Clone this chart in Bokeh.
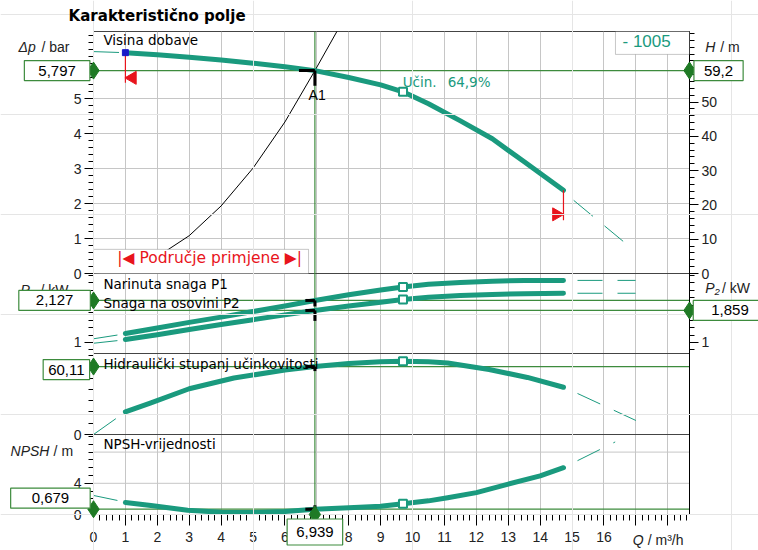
import numpy as np
from bokeh.plotting import figure
from bokeh.models import Range1d, LinearAxis, FixedTicker, Label, Span, BoxAnnotation, GridBox, Column
from bokeh.embed import file_html
from bokeh.resources import INLINE

# ---------------- data ----------------
q_head = [1.0, 2.0, 3.0, 4.0, 5.0, 6.0, 6.939, 8.0, 9.0, 9.7, 10.5, 11.5, 12.5, 13.5, 14.73]
dp_head = [6.31, 6.25, 6.18, 6.10, 6.01, 5.91, 5.797, 5.60, 5.39, 5.19, 4.85, 4.36, 3.85, 3.19, 2.38]
q_head_lo = [0.0, 0.8]
dp_head_lo = [6.34, 6.315]
q_head_hi = [15.05, 16.6]
dp_head_hi = [2.09, 0.92]

q_sys = [0.0, 1.0, 2.0, 3.0, 4.0, 5.0, 6.0, 6.939, 7.65]
dp_sys = [0.0, 0.12, 0.48, 1.08, 1.93, 3.01, 4.33, 5.797, 6.95]

q_pw = [1.0, 2.0, 3.0, 4.0, 5.0, 6.0, 6.939, 8.0, 9.0, 9.7, 10.5, 11.5, 12.5, 13.5, 14.73]
p1 = [1.24, 1.39, 1.54, 1.68, 1.83, 1.98, 2.127, 2.28, 2.41, 2.49, 2.56, 2.61, 2.645, 2.66, 2.665]
p2 = [1.08, 1.21, 1.35, 1.48, 1.61, 1.74, 1.859, 1.98, 2.08, 2.15, 2.21, 2.26, 2.29, 2.31, 2.32]
q_pw_lo = [0.0, 0.75]
p1_lo = [1.10, 1.20]
p2_lo = [0.98, 1.05]
q_pw_hi = [15.17, 16.99]
p1_hi = [2.665, 2.665]
p2_hi = [2.32, 2.32]

q_eta = [1.0, 1.8, 3.0, 4.4, 6.0, 6.939, 8.0, 9.0, 9.7, 10.5, 11.1, 12.4, 13.6, 14.73]
eta = [20.0, 28.0, 40.5, 50.0, 57.0, 60.11, 62.8, 64.3, 64.9, 64.4, 63.3, 57.5, 50.5, 41.8]
q_eta_lo = [0.0, 0.7]
eta_lo = [0.0, 14.0]
q_eta_hi = [15.17, 17.0]
eta_hi = [36.3, 12.4]

q_npsh = [1.0, 1.8, 2.95, 4.0, 5.0, 6.0, 6.939, 8.0, 9.0, 9.7, 10.5, 11.1, 12.0, 13.0, 14.0, 14.73]
npsh = [1.54, 1.15, 0.55, 0.28, 0.25, 0.38, 0.679, 0.85, 1.05, 1.38, 1.75, 2.15, 2.8, 3.9, 4.95, 6.0]
q_npsh_lo = [0.0, 0.75]
npsh_lo = [2.44, 1.8]
q_npsh_hi = [15.17, 16.35]
npsh_hi = [6.9, 9.3]

# operating point / best point
q_op, dp_op, h_op = 6.939, 5.797, 59.2
p1_op, p2_op, eta_op, npsh_op = 2.127, 1.859, 60.11, 0.679
q_bep = 9.7
eta_bep_txt = "64,9%"
q_min, q_max = 1.0, 14.73

# tick labels
dp_major = [0, 1, 2, 3, 4, 5]
h_major = [0, 10, 20, 30, 40, 50]
pw_major = [1, 2]
eta_major = [0, 60]
npsh_major = [0, 4]
q_major = list(range(0, 19))
q_hidden = [17, 18]

# ---------------- layout ----------------
W, H = 758, 550
ML, MR, MT, MB = 93, 69, 31, 36
FW = W - ML - MR
FH = H - MT - MB
XMAX = 18.68
PPQ = FW / XMAX
BAR_TO_M = 10.21

panels = {
    "npsh": (0, 0.0, 7.8),
    "eta": (80, 0.0, 1.13),
    "pw": (161, 0.705, 37.3),
    "dp": (241, 0.0, 35.0),
    "H": (241, 0.0, 35.0 / BAR_TO_M),
}


def rng(name, below=0, total=FH):
    pb, v0, ppu = panels[name]
    s = v0 - (pb + below) / ppu
    return Range1d(s, s + total / ppu)


def pos(name, v):
    pb, v0, ppu = panels[name]
    return round(pb + (v - v0) * ppu, 3)


TEAL = "#1a9a7e"
GREEN = "#3d8b3d"
DGREEN = "#1f7a25"
RED = "#e8141c"
GRID = "#c6c6c6"
EDGE = "#444444"

# main figure: frame, axes, curves
p = figure(width=W, height=H, x_range=Range1d(0, XMAX), y_range=Range1d(0, FH),
           output_backend="svg", toolbar_location=None, title=None,
           min_border_left=ML, min_border_right=MR, min_border_top=MT, min_border_bottom=MB)
p.extra_y_ranges = {k: rng(k) for k in panels}
p.background_fill_color = "white"
p.border_fill_color = "white"
p.outline_line_color = EDGE
p.ygrid.visible = False
p.xgrid.ticker = FixedTicker(ticks=q_major)
p.xgrid.grid_line_color = GRID

# overlay figure: same coordinates, frame covering the whole canvas (texts, boxes, markers at edges)
o = figure(width=W, height=H, x_range=Range1d(-ML / PPQ, (W - ML) / PPQ), y_range=Range1d(-MB, FH + MT),
           output_backend="svg", toolbar_location=None, title=None, min_border=0,
           x_axis_location=None, y_axis_location=None)
o.extra_y_ranges = {k: rng(k, below=MB, total=H) for k in panels}
o.background_fill_alpha = 0
o.border_fill_alpha = 0
o.outline_line_color = None


def style_axis(ax, tick_out=9, minor_out=5):
    ax.major_tick_in = 0
    ax.major_tick_out = tick_out
    ax.minor_tick_in = 0
    ax.minor_tick_out = minor_out
    ax.axis_line_color = "black"
    ax.major_tick_line_color = "black"
    ax.minor_tick_line_color = "black"
    ax.major_label_text_font = "Liberation Sans"
    ax.major_label_text_font_size = "14px"
    ax.major_label_text_color = "#222222"
    ax.major_label_standoff = 3


def tick_set(specs):
    majors, minors, labels = [], [], {}
    for name, mj, mn in specs:
        for v in mj:
            t = pos(name, v)
            majors.append(t)
            labels[t] = f"{v:g}"
        minors += [pos(name, float(v)) for v in mn]
    return majors, minors, labels


lmaj, lmin, llab = tick_set([
    ("dp", dp_major, np.arange(0, 6.81, 0.2)),
    ("pw", pw_major, np.arange(0.8, 2.81, 0.2)),
    ("eta", eta_major, np.arange(10, 70.1, 10)),
    ("npsh", npsh_major, np.arange(1, 10.1, 1)),
])
left = p.yaxis[0]
left.ticker = FixedTicker(ticks=lmaj, minor_ticks=lmin)
left.major_label_overrides = llab
style_axis(left)

rmaj, rmin, rlab = tick_set([
    ("H", h_major, np.arange(0, 70.1, 2)),
    ("pw", pw_major, np.arange(0.8, 2.81, 0.2)),
])
right = LinearAxis(ticker=FixedTicker(ticks=rmaj, minor_ticks=rmin))
right.major_label_overrides = rlab
style_axis(right)
p.add_layout(right, "right")

xa = p.xaxis[0]
xa.ticker = FixedTicker(ticks=q_major, minor_ticks=[round(v, 2) for v in np.arange(0, XMAX, 0.2)])
xa.major_label_overrides = {k: "" for k in q_hidden}
style_axis(xa, tick_out=11, minor_out=6)
xa.major_label_standoff = 6

# horizontal grid lines (panel 1 and NPSH panel)
for v in dp_major[1:]:
    p.add_layout(Span(location=v, dimension="width", y_range_name="dp", line_color=GRID, line_width=1, level="underlay"))
for v in [4, 8]:
    p.add_layout(Span(location=v, dimension="width", y_range_name="npsh", line_color=GRID, line_width=1, level="underlay"))
# panel separators
for name in ["eta", "pw", "dp"]:
    p.add_layout(Span(location=panels[name][0], dimension="width", line_color=EDGE, line_width=1, level="underlay"))

# operating point lines
p.add_layout(Span(location=q_op, dimension="height", line_color=GREEN, line_width=1.2, level="underlay"))
for rn, v in [("dp", dp_op), ("pw", p1_op), ("pw", p2_op), ("eta", eta_op), ("npsh", npsh_op)]:
    p.add_layout(Span(location=v, dimension="width", y_range_name=rn, line_color=GREEN, line_width=1.2, level="underlay"))

# system curve
p.line(q_sys, dp_sys, y_range_name="dp", line_color="black", line_width=1)

# pump curves
curves = [
    ("dp", q_head, dp_head, q_head_lo, dp_head_lo, q_head_hi, dp_head_hi),
    ("pw", q_pw, p1, q_pw_lo, p1_lo, q_pw_hi, p1_hi),
    ("pw", q_pw, p2, q_pw_lo, p2_lo, q_pw_hi, p2_hi),
    ("eta", q_eta, eta, q_eta_lo, eta_lo, q_eta_hi, eta_hi),
    ("npsh", q_npsh, npsh, q_npsh_lo, npsh_lo, q_npsh_hi, npsh_hi),
]
for rn, qx, yy, qlo, ylo, qhi, yhi in curves:
    p.line(qlo, ylo, y_range_name=rn, line_color=TEAL, line_width=1)
    p.line(qhi, yhi, y_range_name=rn, line_color=TEAL, line_width=1, line_dash="25 15")
    p.line(qx, yy, y_range_name=rn, line_color=TEAL, line_width=5, line_join="round", line_cap="round")
    i = qx.index(q_bep)
    p.scatter([q_bep], [yy[i]], y_range_name=rn, marker="square", size=8,
              fill_color="white", line_color=TEAL, line_width=2)

# black duty-point marks
marks = [
    ("dp", [q_op - 0.5, q_op], [dp_op, dp_op], [q_op, q_op], [dp_op, dp_op - 0.43]),
    ("pw", [q_op - 0.3, q_op], [p1_op, p1_op], [q_op, q_op], [p1_op, p1_op - 0.16]),
    ("pw", [q_op - 0.3, q_op], [p2_op, p2_op], [q_op, q_op], [p2_op, p2_op - 0.28]),
    ("eta", [q_op - 0.3, q_op], [eta_op, eta_op], [q_op, q_op], [eta_op, eta_op - 4.0]),
    ("npsh", [q_op - 0.3, q_op], [npsh_op, npsh_op], [q_op, q_op], [npsh_op + 0.5, npsh_op]),
]
for rn, hx, hy, vx, vy in marks:
    p.line(hx, hy, y_range_name=rn, line_color="black", line_width=3)
    p.line(vx, vy, y_range_name=rn, line_color="black", line_width=3)

# limits of the head curve (red)
i0, i1 = 0, len(q_head) - 1
p.line([q_min, q_min], [dp_head[i0], dp_head[i0] - 0.86], y_range_name="dp", line_color=RED, line_width=1.2)
p.line([q_max, q_max], [dp_head[i1], dp_head[i1] - 0.86], y_range_name="dp", line_color=RED, line_width=1.2)
p.scatter([q_min + 0.22], [dp_head[i0] - 0.72], y_range_name="dp", marker="triangle", angle=np.pi / 2,
          size=13, fill_color=RED, line_color=RED)
p.scatter([q_max - 0.22], [dp_head[i1] - 0.69], y_range_name="dp", marker="triangle", angle=-np.pi / 2,
          size=13, fill_color=RED, line_color=RED)
p.scatter([q_min], [dp_head[i0]], y_range_name="dp", marker="square", size=6,
          fill_color="#1a1ac8", line_color="#1a1ac8")

# boxes inside the frame
p.add_layout(BoxAnnotation(left=0, right=6.74, bottom=0, top=0.69, y_range_name="dp",
                           fill_color="white", fill_alpha=1, line_color=EDGE, line_width=1))
p.add_layout(BoxAnnotation(left=16.36, right=XMAX, bottom=6.26, top=p.extra_y_ranges["dp"].end,
                           y_range_name="dp", fill_color="white", fill_alpha=1, line_color=EDGE, line_width=1))


def add_label(text, x, y, rn="default", size=13.5, color="black", font="DejaVu Sans", style="normal",
              align="left", baseline="middle", xo=0, yo=0, **kw):
    o.add_layout(Label(x=x, y=y, y_range_name=rn, text=text, text_font=font, text_font_size=f"{size}px",
                       text_color=color, text_font_style=style, text_align=align, text_baseline=baseline,
                       x_offset=xo, y_offset=yo, **kw))


add_label("Karakteristično polje", -0.78, 7.37, "dp", size=15, style="bold")
add_label("Visina dobave", 0.31, 6.66, "dp")
add_label("Narinuta snaga P1", 0.31, 2.58, "pw")
add_label("Snaga na osovini P2", 0.31, 2.07, "pw")
add_label("Hidraulički stupanj učinkovitosti", 0.31, 62.0, "eta")
add_label("NPSH-vrijednosti", 0.31, 9.1, "npsh")
add_label("Učin.", 9.69, 5.46, "dp", color=TEAL)
add_label(eta_bep_txt, 11.1, 5.46, "dp", color=TEAL)
add_label("A1", 6.74, 5.09, "dp", size=14, font="Liberation Sans")
add_label("- 1005", 16.58, 6.63, "dp", size=17, font="Liberation Sans", color=TEAL)
add_label("|◀ Područje primjene ▶|", 3.64, 0.43, "dp", size=15.5, color=RED, align="center")

# axis titles
AX = dict(size=14, font="Liberation Sans", color="#222222")
add_label("Δp", -2.35, 6.46, "dp", style="italic", **AX)
add_label("/ bar", -1.63, 6.46, "dp", **AX)
add_label("H", 19.17, 6.46, "dp", style="italic", **AX)
add_label("/ m", 19.64, 6.46, "dp", **AX)
add_label("P₁", -2.29, 2.42, "pw", style="italic", **AX)
add_label("/ kW", -1.66, 2.42, "pw", **AX)
add_label("P₂", 19.17, 2.45, "pw", style="italic", **AX)
add_label("/ kW", 19.70, 2.45, "pw", **AX)
add_label("NPSH", -2.60, 8.2, "npsh", style="italic", **AX)
add_label("/ m", -1.25, 8.2, "npsh", **AX)
add_label("Q", 16.90, -3.33, "npsh", style="italic", **AX)
add_label("/ m³/h", 17.37, -3.33, "npsh", **AX)


def value_box(text, x, y, rn, padx, pady=5, yo=0):
    add_label(text, x, y, rn, size=15, font="Liberation Sans", align="center", yo=yo,
              background_fill_color="white", border_line_color=GREEN, border_line_width=1.2,
              padding=dict(left=padx, right=padx, top=pady, bottom=pady))


value_box("5,797", -1.14, dp_op, "dp", 14)
value_box("59,2", 19.59, h_op, "H", 10)
value_box("2,127", -1.22, p1_op, "pw", 17)
value_box("1,859", 19.95, p2_op, "pw", 18)
value_box("60,11", -0.85, eta_op, "eta", 5, yo=-3)
value_box("0,679", -1.35, npsh_op, "npsh", 21, yo=11)
value_box("6,939", q_op, 0, "npsh", 9, pady=8, yo=-17.5)

# duty-point diamonds on the frame edges
for x, y, rn in [(0, dp_op, "dp"), (XMAX, h_op, "H"), (0, p1_op, "pw"), (XMAX, p2_op, "pw"),
                 (0, eta_op, "eta"), (0, npsh_op, "npsh"), (q_op, 0, "npsh")]:
    o.scatter([x], [y], y_range_name=rn, marker="diamond", size=17, fill_color=DGREEN, line_color=DGREEN)

layout = GridBox(children=[(p, 0, 0), (Column(children=[o]), 0, 0)])
open("out.html", "w").write(file_html(layout, INLINE))
